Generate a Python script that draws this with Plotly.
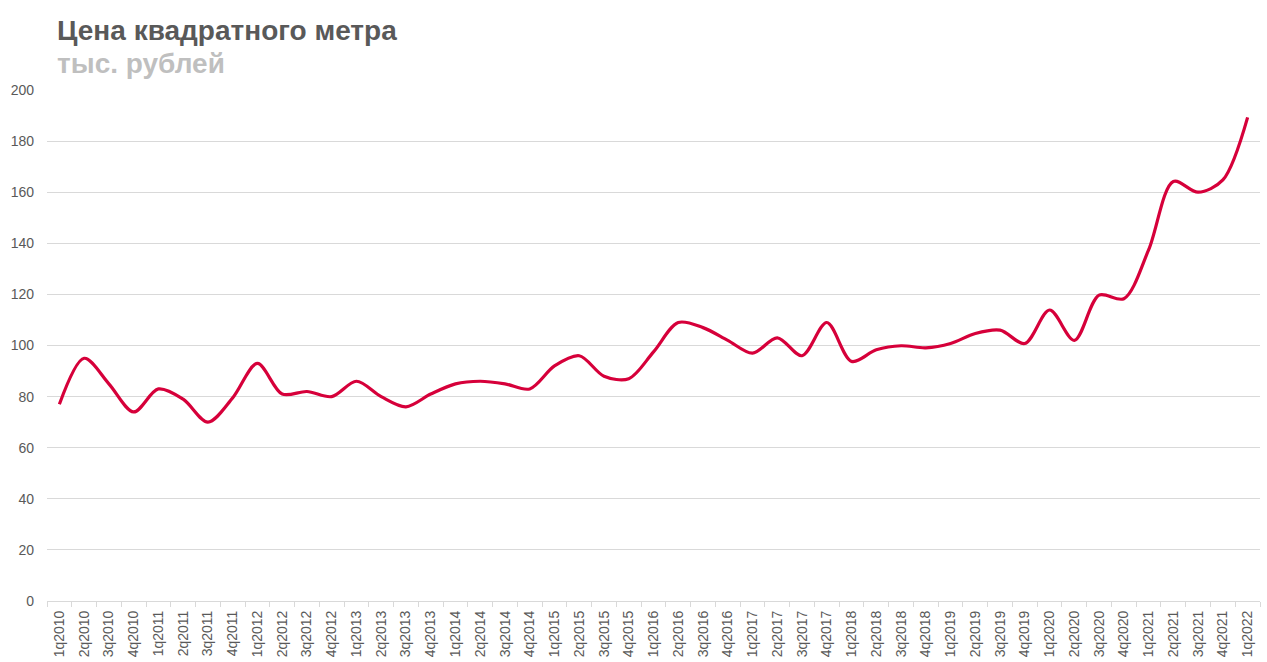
import plotly.graph_objects as go

quarters = [f"{q}q{y}" for y in range(2010, 2022) for q in range(1, 5)] + ["1q2022"]
prices = [77, 95, 85, 74, 83, 79, 70, 79.5, 93, 81, 82, 80, 86, 80, 76, 81,
          85, 86, 85, 83, 92, 96, 88, 87, 97.5, 109, 107, 102, 97, 103, 96, 109,
          93.8, 98.3, 99.9, 99.1, 100.8, 104.7, 106, 100.8, 113.9, 102, 119.7, 118.3,
          137.4, 164.2, 160, 164.8, 189.3]

y_ticks = [0, 20, 40, 60, 80, 100, 120, 140, 160, 180, 200]

fig = go.Figure(go.Scatter(
    x=quarters, y=prices, mode="lines",
    line=dict(color="#D6003A", width=3.2, shape="spline", smoothing=0.9),
    hoverinfo="x+y",
))

fig.update_layout(
    width=1267, height=662,
    margin=dict(l=47, r=7, t=90, b=61),
    paper_bgcolor="white", plot_bgcolor="white",
    showlegend=False,
    font=dict(family="Liberation Sans, Arial, sans-serif", color="#595959"),
    xaxis=dict(
        type="category", tickangle=-90, tickfont=dict(size=14, color="#595959"),
        showgrid=False, showline=True, linecolor="#d9d9d9", linewidth=1,
        ticks="outside", tickson="boundaries", ticklen=5, tickcolor="#d9d9d9",
        ticklabelstandoff=3, automargin=False,
        range=[-0.5, len(quarters) - 0.5],
    ),
    yaxis=dict(
        range=[0, 200], tickvals=y_ticks, tickfont=dict(size=14, color="#595959"),
        showgrid=True, gridcolor="#d9d9d9", gridwidth=1, zeroline=False,
        showline=False, ticks="", ticklabelstandoff=12, automargin=False,
    ),
    annotations=[
        dict(text="<b>Цена квадратного метра</b>", xref="paper", yref="paper",
             x=8 / 1213, y=(601 - 30) / 511, xanchor="left", yanchor="middle",
             showarrow=False, font=dict(size=28, color="#595959",
                                        family="Liberation Sans, Arial, sans-serif")),
        dict(text="<b>тыс. рублей</b>", xref="paper", yref="paper",
             x=8 / 1213, y=(601 - 64) / 511, xanchor="left", yanchor="middle",
             showarrow=False, font=dict(size=28, color="#BFBFBF",
                                        family="Liberation Sans, Arial, sans-serif")),
    ],
)

fig.write_html("out.html")
